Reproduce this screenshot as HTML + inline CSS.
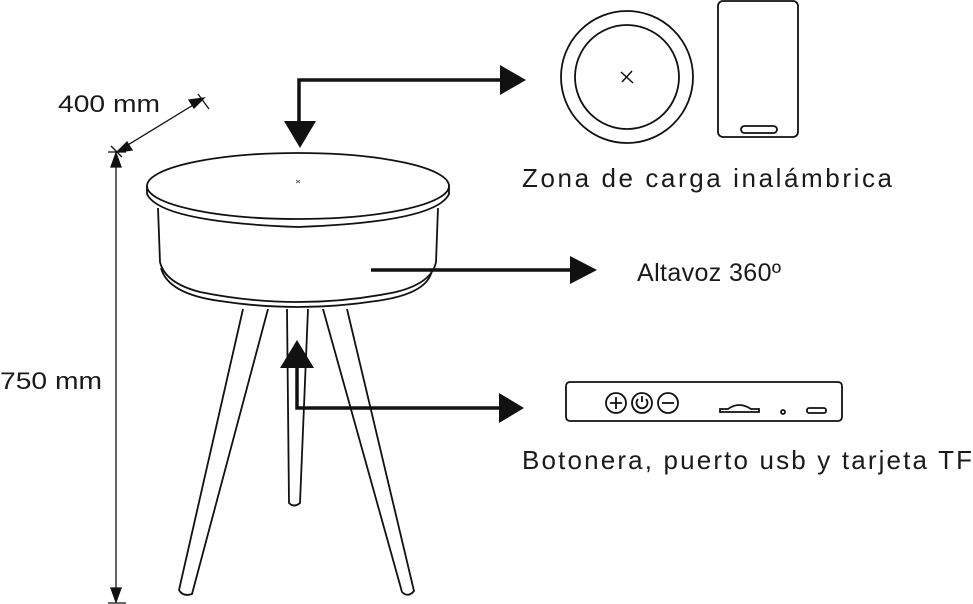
<!DOCTYPE html>
<html><head><style>
html,body{margin:0;padding:0;background:#fff;}
svg{display:block}
text{font-family:"Liberation Sans",sans-serif;fill:#1a1a1a}
</style></head><body>
<svg width="973" height="604" viewBox="0 0 973 604" xmlns="http://www.w3.org/2000/svg">
<g fill="none" stroke="#111" stroke-width="1.8">
<path d="M243,309 L179,590 Q183,597 192,594 L268,309"/>
<path d="M287,309 L289,503 Q294,508 300,503 L308,309"/>
<path d="M323,309 L402,592 Q408,598 414,591 L347,309"/>
<path d="M158,208 L160,262 Q165,283 200,292 Q298,312 396,292 Q432,283 436,262 L438,208"/>
<path d="M161,268 Q168,294 220,301 Q298,313 376,301 Q428,294 432,270"/>
<path d="M147,186 L147,194 Q160,222 298,227 Q436,222 449,194 L449,186"/>
<ellipse cx="298" cy="186" rx="151" ry="33" fill="#fff"/>
<circle cx="627" cy="77" r="66"/>
<circle cx="627" cy="77" r="52"/>
<path d="M621,72 L633,83 M632,71 L622,82" stroke-width="1.5"/>
<rect x="718" y="1" width="80" height="136" rx="5"/>
<rect x="741" y="126" width="36" height="7" rx="3.5"/>
<rect x="566" y="382" width="276" height="39" rx="4"/>
<circle cx="616" cy="403" r="10"/><path d="M610,403 h12 M616,397 v12"/>
<circle cx="642" cy="403" r="10"/><path d="M642,396 v6"/><path d="M638,399 a5.5,5.5 0 1 0 8,0"/>
<circle cx="668" cy="403" r="10"/><path d="M662,403 h12"/>
<path d="M720,412 h39 v-3 h-8 q-12,-8 -23,0 h-8 z"/>
<circle cx="783" cy="412" r="2"/>
<rect x="807" y="408" width="19" height="5" rx="2"/>
</g>
<path d="M296,180 l4,3 M300,180 l-4,3" stroke="#555" stroke-width="0.8"/>
<g stroke="#111" stroke-width="1.3" fill="#111">
<line x1="116" y1="158" x2="116" y2="600"/>
<line x1="108" y1="152" x2="126" y2="152"/>
<line x1="108" y1="603" x2="126" y2="603"/>
<path d="M116,153 l-5,14 h10 z"/>
<path d="M116,602 l-5,-14 h10 z"/>
<line x1="118" y1="151" x2="203" y2="99"/>
<line x1="198" y1="94" x2="209" y2="109"/>
<line x1="111" y1="146" x2="122" y2="157"/>
<path d="M117,152 l15,-2 l-5,-8 z"/>
<path d="M204,98 l-15,2 l5,8 z"/>
</g>
<g stroke="#111" stroke-width="3.5" fill="none">
<path d="M299,122 L299,80 L502,80"/>
<path d="M371,270 L572,270"/>
<path d="M297,366 L297,408 L502,408"/>
</g>
<g fill="#111">
<path d="M284,121 L316,121 L300,148 z"/>
<path d="M500,65 L500,95 L526,80 z"/>
<path d="M570,256 L570,284 L597,270 z"/>
<path d="M280,368 L314,368 L297,340 z"/>
<path d="M499,393 L499,423 L524,408 z"/>
</g>
<text x="58" y="112" font-size="24" textLength="102" lengthAdjust="spacingAndGlyphs">400 mm</text>
<text x="0" y="389" font-size="24" textLength="102" lengthAdjust="spacingAndGlyphs">750 mm</text>
<text x="522" y="187" font-size="26" textLength="370" lengthAdjust="spacing">Zona de carga inalámbrica</text>
<text x="637" y="281" font-size="25" textLength="144" lengthAdjust="spacing">Altavoz 360º</text>
<text x="522" y="469" font-size="26" textLength="450" lengthAdjust="spacing">Botonera, puerto usb y tarjeta TF</text>
</svg>
</body></html>
